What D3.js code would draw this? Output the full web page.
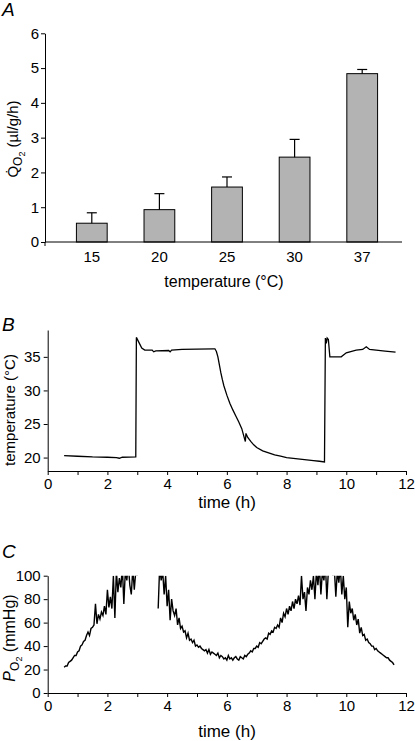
<!DOCTYPE html>
<html>
<head>
<meta charset="utf-8">
<script src="https://cdn.jsdelivr.net/npm/d3@7"></script>
<style>
  body { margin: 0; background: #fff; }
  svg { display: block; font-family: "Liberation Sans", Arial, sans-serif; }
  .axis path, .axis line { stroke: #000; stroke-width: 1; }
  .axis text { font-size: 15px; fill: #000; font-family: "Liberation Sans", Arial, sans-serif; }
</style>
</head>
<body>
<svg id="chart" width="415" height="741"></svg>
<script>
// ---------------- DATA ----------------
// Panel A: O2 consumption vs temperature
const tempCategories = ["15", "20", "25", "30", "37"];
const qo2Mean = [0.54, 0.93, 1.58, 2.44, 4.84];
const qo2Err  = [0.30, 0.46, 0.29, 0.51, 0.12];
const qo2Ticks = [0, 1, 2, 3, 4, 5, 6];

// Panel B: temperature trace (time in h, temperature in °C)
const tempTime = [0.55, 1.0, 1.5, 2.0, 2.3, 2.4, 2.5, 2.95, 2.97, 3.05, 3.15, 3.25, 3.5, 3.55, 3.62, 4.05, 4.1, 4.15, 4.5, 5.0, 5.55,
  5.6, 5.65, 5.7, 5.75, 5.8, 5.85, 5.9, 6.0, 6.1, 6.2, 6.3, 6.4, 6.5, 6.58, 6.62, 6.64, 6.7, 6.8, 6.9, 7.0, 7.2, 7.4, 7.6, 7.8,
  8.0, 8.3, 8.6, 8.9, 9.1, 9.27, 9.3, 9.33, 9.36, 9.4, 9.45, 9.83, 10.0, 10.33, 10.55, 10.67, 10.78, 11.0, 11.3, 11.65];
const tempValue = [20.3, 20.2, 20.1, 20.05, 20.0, 19.9, 20.05, 20.1, 37.9, 37.2, 36.3, 36.0, 36.0, 35.75, 35.9, 35.95, 35.75, 36.0, 36.1, 36.15, 36.2,
  36.2, 35.8, 35.0, 33.8, 32.6, 31.6, 30.7, 29.3, 28.1, 27.1, 26.2, 25.3, 24.3, 23.0, 22.4, 23.6, 23.0, 22.4, 21.9, 21.5, 21.0, 20.7, 20.4, 20.2,
  20.0, 19.85, 19.7, 19.55, 19.45, 19.35, 37.8, 37.0, 37.8, 37.6, 35.0, 35.0, 35.6, 36.0, 36.1, 36.5, 36.1, 36.0, 35.85, 35.7];
const tempTicks = [20, 25, 30, 35];

// Panel C: PO2 trace, sampled every 0.05 h from 0.55 h (null = off scale / not shown)
const po2Start = 0.55;
const po2Step = 0.05;
const po2Values = [
  22, 23, 23, 26, 27, 28, 30, 32, 32, 35,
  36, 40, 41, 44, 45, 49, 52, 49, 55, 56,
  58, 76, 59, 67, 63, 69, 66, 74, 67, 88,
  73, 82, 72, 100, 64, 104, 86, 98, 90, 108,
  76, 104, 96, 110, 92, 84, 106, 88, 104, 100,
  null, null, null, null, null, null, null, null, null, null, null, null, null,
  72, 108, 96, 104, 84, 100, 74, 88, 62, 80,
  70, 66, 72, 58, 64, 55, 57, 52, 53, 47,
  51, 45, 46, 43, 45, 40, 41, 39, 40, 38,
  37, 36, 37, 34, 37, 33, 35, 34, 33, 32,
  34, 30, 32, 31, 29, 30, 28, 32, 29, 30,
  28, 30, 31, 29, 28, 31, 30, 29, 32, 31,
  33, 34, 36, 35, 38, 38, 40, 39, 43, 42,
  44, 46, 47, 46, 51, 50, 53, 52, 56, 55,
  58, 56, 64, 60, 68, 65, 72, 67, 74, 70,
  78, 72, 80, 76, 83, 75, 100, 80, 86, 70,
  90, 84, 96, 88, 100, 80, 104, 92, 108, 84,
  104, 96, 110, 80, 104, 112, 110, 100, 106, 82,
  104, 94, 108, 84, 100, 80, 90, 56, 78, 68,
  72, 62, 67, 58, 63, 51, 56, 49, 50, 45,
  46, 43, 42, 40, 40, 37, 38, 36, 35, 34,
  33, 32, 31, 30, 30, 28, 27, 26, 24
];
const po2Ticks = [0, 20, 40, 60, 80, 100];
const timeTickLabels = [0, 2, 4, 6, 8, 10, 12];
const timeMinorTicks = [1, 3, 5, 7, 9, 11];

// ---------------- DRAW ----------------
const svg = d3.select("#chart");
svg.append("rect").attr("width", 415).attr("height", 741).attr("fill", "#fff");

function panelLetter(txt, x, y) {
  svg.append("text").attr("x", x).attr("y", y).attr("font-size", 19)
    .attr("font-style", "italic").attr("fill", "#000").text(txt);
}

// ===== Panel A =====
const xA = d3.scaleBand().domain(tempCategories).range([58, 396])
  .paddingInner(0.545).paddingOuter(0.2725);
const yA = d3.scaleLinear().domain([0, 6]).range([242, 33.3]);
const gA = svg.append("g");

gA.selectAll("rect.bar").data(tempCategories).join("rect")
  .attr("class", "bar")
  .attr("x", d => xA(d))
  .attr("width", xA.bandwidth())
  .attr("y", (d, i) => yA(qo2Mean[i]))
  .attr("height", (d, i) => yA(0) - yA(qo2Mean[i]))
  .attr("fill", "#b3b3b3").attr("stroke", "#000").attr("stroke-width", 1);

const eb = gA.selectAll("g.err").data(tempCategories).join("g").attr("class", "err");
eb.append("line")
  .attr("x1", d => xA(d) + xA.bandwidth() / 2).attr("x2", d => xA(d) + xA.bandwidth() / 2)
  .attr("y1", (d, i) => yA(qo2Mean[i])).attr("y2", (d, i) => yA(qo2Mean[i] + qo2Err[i]))
  .attr("stroke", "#000").attr("stroke-width", 1.2);
eb.append("line")
  .attr("x1", d => xA(d) + xA.bandwidth() / 2 - 5).attr("x2", d => xA(d) + xA.bandwidth() / 2 + 5)
  .attr("y1", (d, i) => yA(qo2Mean[i] + qo2Err[i])).attr("y2", (d, i) => yA(qo2Mean[i] + qo2Err[i]))
  .attr("stroke", "#000").attr("stroke-width", 1.2);

gA.append("g").attr("class", "axis").attr("transform", "translate(45,0)")
  .call(d3.axisLeft(yA).tickValues(qo2Ticks).tickFormat(d3.format("d")).tickSize(4).tickSizeOuter(0).tickPadding(2));
const xAxisA = gA.append("g").attr("class", "axis").attr("transform", "translate(0,242)")
  .call(d3.axisBottom(xA).tickSize(0).tickPadding(9));
xAxisA.select(".domain").attr("d", "M45,0H402");
gA.append("line").attr("x1", 45).attr("x2", 45).attr("y1", 242).attr("y2", 246).attr("stroke", "#000");

gA.append("text").attr("x", 224).attr("y", 287).attr("text-anchor", "middle")
  .attr("font-size", 16).text("temperature (°C)");

const yLabA = gA.append("text").attr("transform", "translate(18,139) rotate(-90)")
  .attr("text-anchor", "middle").attr("font-size", 15);
yLabA.append("tspan").text("Q\u0307");
yLabA.append("tspan").attr("dy", 4).attr("font-size", 12).text("O");
yLabA.append("tspan").attr("dy", 3).attr("font-size", 9).text("2");
yLabA.append("tspan").attr("dy", -7).text(" (µl/g/h)");

panelLetter("A", 2, 16);

// ===== Time axes shared =====
const xT = d3.scaleLinear().domain([0, 12]).range([47.7, 406]);

function timeAxis(g, y) {
  const ax = g.append("g").attr("class", "axis").attr("transform", `translate(0,${y})`)
    .call(d3.axisBottom(xT).tickValues(timeTickLabels).tickSize(4).tickSizeOuter(0).tickPadding(3));
  ax.selectAll("text").attr("font-size", 16);
  g.append("g").attr("class", "axis").attr("transform", `translate(0,${y})`)
    .call(d3.axisBottom(xT).tickValues(timeMinorTicks).tickSize(4).tickSizeOuter(0).tickFormat(""))
    .select(".domain").remove();
}

// ===== Panel B =====
const yB = d3.scaleLinear().domain([18, 39]).range([471, 330]);
const gB = svg.append("g");
gB.append("g").attr("class", "axis").attr("transform", "translate(47.7,0)")
  .call(d3.axisLeft(yB).tickValues(tempTicks).tickSize(4).tickSizeOuter(0).tickPadding(3))
  .selectAll("text").attr("font-size", 16);
timeAxis(gB, 471);

const tempData = tempTime.map((t, i) => [t, tempValue[i]]);
gB.append("path").datum(tempData)
  .attr("d", d3.line().x(d => xT(d[0])).y(d => yB(d[1])))
  .attr("fill", "none").attr("stroke", "#000").attr("stroke-width", 1.3);

gB.append("text").attr("x", 227).attr("y", 508).attr("text-anchor", "middle")
  .attr("font-size", 17).text("time (h)");
gB.append("text").attr("transform", "translate(15,410) rotate(-90)")
  .attr("text-anchor", "middle").attr("font-size", 15).text("temperature (°C)");
panelLetter("B", 2, 331);

// ===== Panel C =====
const yC = d3.scaleLinear().domain([0, 100]).range([693, 575.7]);
const gC = svg.append("g");
svg.append("clipPath").attr("id", "clipC").append("rect")
  .attr("x", 47.7).attr("y", 575.7).attr("width", 360).attr("height", 117.3);
gC.append("g").attr("class", "axis").attr("transform", "translate(47.7,0)")
  .call(d3.axisLeft(yC).tickValues(po2Ticks).tickSize(4).tickSizeOuter(0).tickPadding(3))
  .selectAll("text").attr("font-size", 16);
timeAxis(gC, 693);

const po2Data = po2Values.map((v, i) => [po2Start + i * po2Step, v]);
gC.append("path").datum(po2Data)
  .attr("clip-path", "url(#clipC)")
  .attr("d", d3.line().defined(d => d[1] !== null).x(d => xT(d[0])).y(d => yC(d[1])))
  .attr("fill", "none").attr("stroke", "#000").attr("stroke-width", 1.4);

gC.append("text").attr("x", 227).attr("y", 737).attr("text-anchor", "middle")
  .attr("font-size", 17).text("time (h)");
const yLabC = gC.append("text").attr("transform", "translate(15,638) rotate(-90)")
  .attr("text-anchor", "middle").attr("font-size", 16);
yLabC.append("tspan").attr("font-style", "italic").text("P");
yLabC.append("tspan").attr("dy", 4).attr("font-size", 12).text("O");
yLabC.append("tspan").attr("dy", 3).attr("font-size", 9).text("2");
yLabC.append("tspan").attr("dy", -7).text(" (mmHg)");
panelLetter("C", 2, 558);
</script>
</body>
</html>
